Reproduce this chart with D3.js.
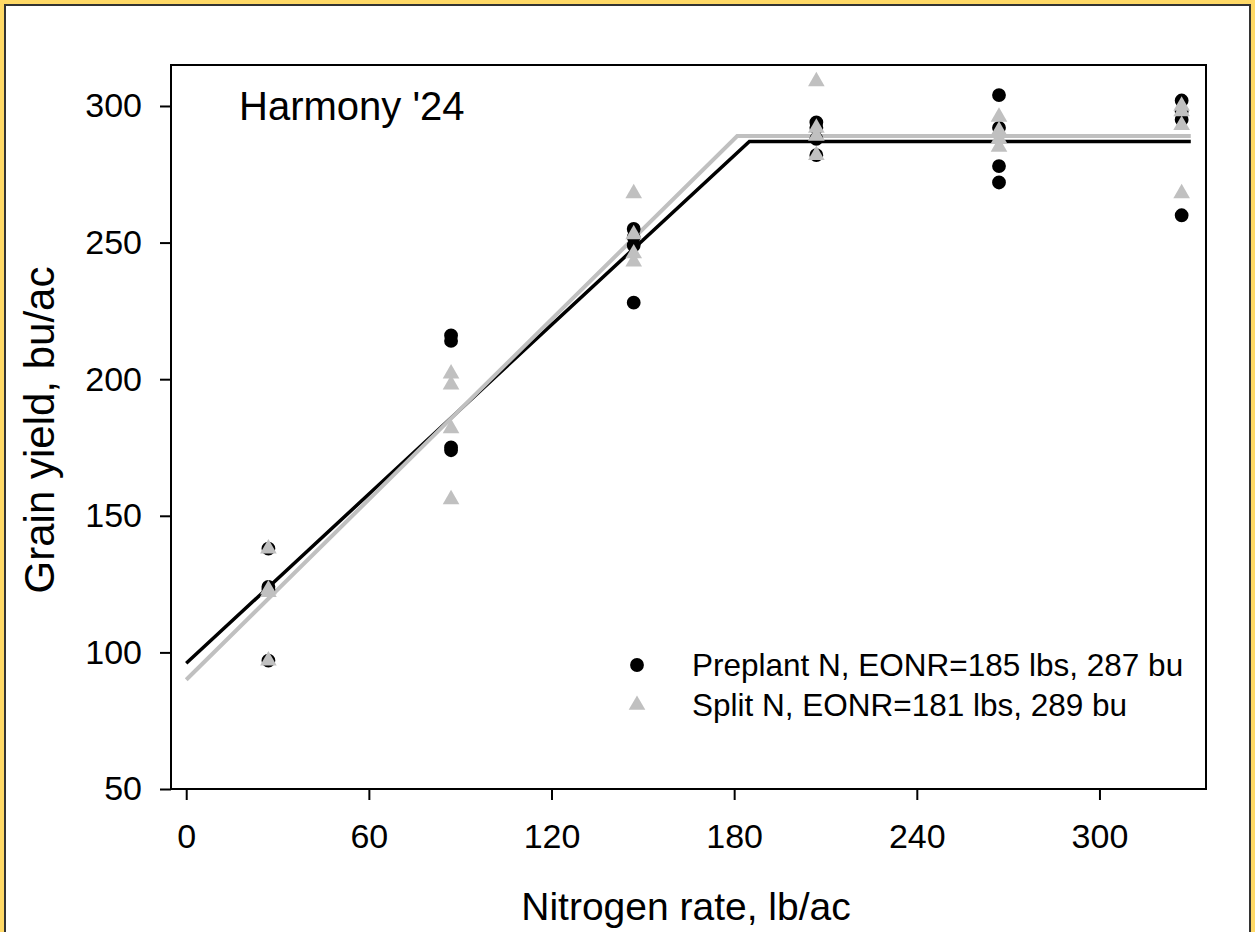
<!DOCTYPE html>
<html>
<head>
<meta charset="utf-8">
<script src="https://cdn.jsdelivr.net/npm/d3@7"></script>
<style>
  html, body { margin: 0; padding: 0; background: #fff; }
  svg { display: block; font-family: Arial, "Liberation Sans", sans-serif; }
</style>
</head>
<body>
<svg id="chart" width="1255" height="932"></svg>
<script>
// Nitrogen rates applied (lb/ac)
const nRates = [27, 87, 147, 207, 267, 327];

// Grain yield per plot (bu/ac) at each N rate
const preplantYield = [
  [138, 124, 123, 97],
  [216, 214, 175, 174],
  [255, 252, 249, 228],
  [294, 292, 288, 282],
  [304, 292, 278, 272],
  [302, 298, 295, 260]
];
const splitYield = [
  [138, 123, 122, 97],
  [202, 198, 182, 156],
  [268, 253, 246, 243],
  [309, 292, 289, 282],
  [296, 291, 288, 285],
  [300, 298, 293, 268]
];

// Linear-plateau fits: knots (N rate) and fitted yields
const preplantFitX = [0, 185, 330];
const preplantFitY = [96, 287, 287];
const splitFitX = [0, 181, 330];
const splitFitY = [90, 289, 289];

const xTicks = [0, 60, 120, 180, 240, 300];
const yTicks = [50, 100, 150, 200, 250, 300];

const seriesLabels = [
  "Preplant N, EONR=185 lbs, 287 bu",
  "Split N, EONR=181 lbs, 289 bu"
];
const panelTitle = "Harmony '24";
const xTitle = "Nitrogen rate, lb/ac";
const yTitle = "Grain yield, bu/ac";

const W = 1255, H = 932;
const svg = d3.select("#chart");

// page frame
svg.append("rect").attr("x", 0).attr("y", 0).attr("width", W).attr("height", H).attr("fill", "#ffd966");
svg.append("rect").attr("x", 5).attr("y", 5).attr("width", W - 10).attr("height", H + 20)
  .attr("fill", "#fff").attr("stroke", "#333").attr("stroke-width", 2);

const plot = { left: 171, top: 65, right: 1206, bottom: 789 };

const x = d3.scaleLinear().domain([-5, 335]).range([plot.left, plot.right]);
const y = d3.scaleLinear().domain([50, 315]).range([plot.bottom, plot.top]);

const g = svg.append("g");

// plot box
g.append("rect")
  .attr("x", plot.left).attr("y", plot.top)
  .attr("width", plot.right - plot.left).attr("height", plot.bottom - plot.top)
  .attr("fill", "none").attr("stroke", "#000").attr("stroke-width", 2);

// axes
const xAxis = d3.axisBottom(x).tickValues(xTicks).tickSize(11).tickPadding(24).tickSizeOuter(0);
const yAxis = d3.axisLeft(y).tickValues(yTicks).tickSize(11).tickPadding(18).tickSizeOuter(0);

const gx = g.append("g").attr("transform", `translate(0,${plot.bottom})`).call(xAxis);
const gy = g.append("g").attr("transform", `translate(${plot.left},0)`).call(yAxis);
[gx, gy].forEach(a => {
  a.select(".domain").remove();
  a.selectAll(".tick line").attr("stroke", "#000").attr("stroke-width", 2);
  a.selectAll(".tick text").attr("fill", "#000").style("font-size", "34px")
    .style("font-family", "Arial, 'Liberation Sans', sans-serif");
});

// fitted lines
const line = d3.line().x(d => x(d[0])).y(d => y(d[1]));
g.append("path").datum(d3.zip(preplantFitX, preplantFitY))
  .attr("d", line).attr("fill", "none").attr("stroke", "#000").attr("stroke-width", 3.5);
g.append("path").datum(d3.zip(splitFitX, splitFitY))
  .attr("d", line).attr("fill", "none").attr("stroke", "#c0c0c0").attr("stroke-width", 4);

// observations
const flat = (rows) => rows.flatMap((vals, i) => vals.map(v => ({ n: nRates[i], v })));
const circle = d3.symbol().type(d3.symbolCircle).size(150);
const tri = d3.symbol().type(d3.symbolTriangle).size(120);

g.append("g").selectAll("path").data(flat(preplantYield)).join("path")
  .attr("d", circle).attr("transform", d => `translate(${x(d.n)},${y(d.v)})`).attr("fill", "#000");
g.append("g").selectAll("path").data(flat(splitYield)).join("path")
  .attr("d", tri).attr("transform", d => `translate(${x(d.n)},${y(d.v)})`).attr("fill", "#c0c0c0");

// panel title
g.append("text").attr("x", 239).attr("y", 120).text(panelTitle)
  .style("font-size", "40px").attr("fill", "#000");

// legend
const legend = g.append("g");
const legendRows = [
  { label: seriesLabels[0], sym: circle, fill: "#000", yPos: 665 },
  { label: seriesLabels[1], sym: tri, fill: "#c0c0c0", yPos: 705 }
];
legendRows.forEach(r => {
  legend.append("path").attr("d", r.sym()).attr("fill", r.fill)
    .attr("transform", `translate(637,${r.yPos})`);
  legend.append("text").attr("x", 692).attr("y", r.yPos).attr("dy", "0.35em")
    .text(r.label).style("font-size", "31.5px").attr("fill", "#000");
});

// axis titles
g.append("text").attr("x", 686).attr("y", 920).attr("text-anchor", "middle")
  .text(xTitle).style("font-size", "39px").attr("fill", "#000");
g.append("text").attr("transform", "translate(54,430) rotate(-90)").attr("text-anchor", "middle")
  .text(yTitle).style("font-size", "42px").attr("fill", "#000");
</script>
</body>
</html>
